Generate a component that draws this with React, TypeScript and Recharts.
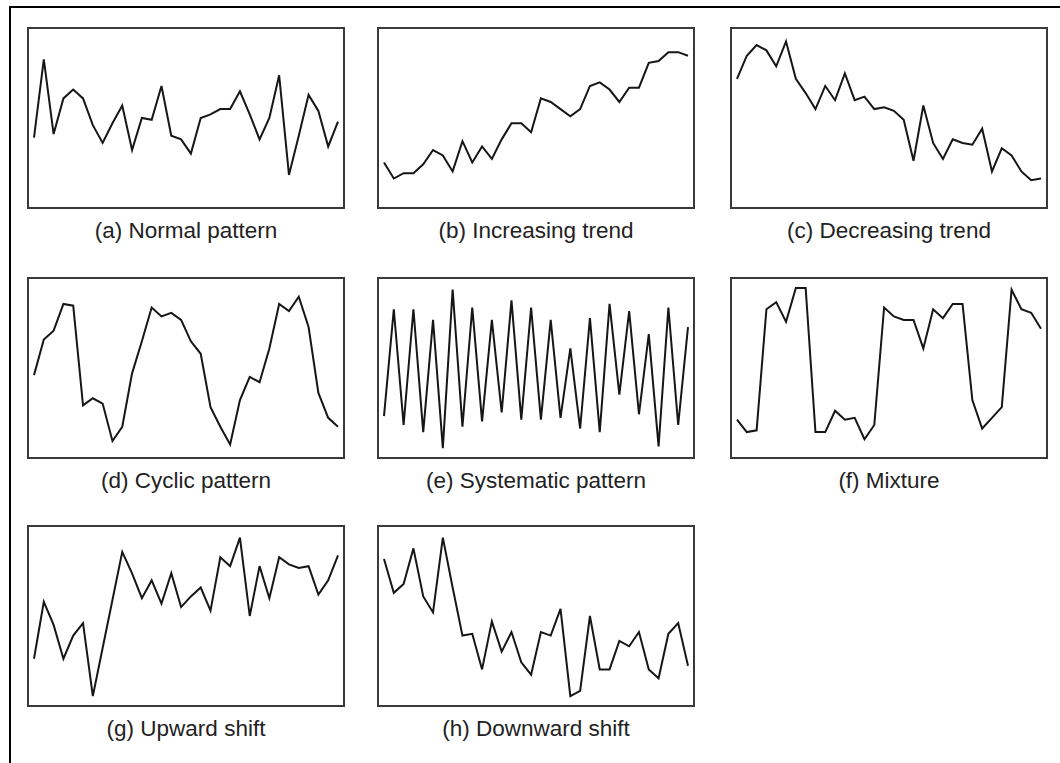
import { LineChart, Line, XAxis, YAxis } from "recharts";

// values, 0 = bottom of box, 100 = top of box
const normalPattern = [39, 83, 41, 61, 66, 61, 46, 36, 47, 57, 32, 50, 49, 68, 40, 38, 30, 50, 52, 55, 55, 65, 52, 38, 50, 74, 18, 40, 63, 54, 34, 48];
const increasingTrend = [25, 16, 19, 19, 24, 32, 29, 20, 37, 25, 34, 27, 38, 47, 47, 42, 61, 59, 55, 51, 55, 68, 70, 66, 59, 67, 67, 81, 82, 87, 87, 85];
const decreasingTrend = [72, 85, 91, 88, 79, 93, 72, 64, 55, 68, 60, 75, 60, 62, 55, 56, 54, 49, 26, 57, 36, 27, 38, 36, 35, 44, 20, 33, 29, 20, 15, 16];
const cyclicPattern = [46, 66, 71, 86, 85, 29, 33, 30, 9, 17, 47, 65, 84, 79, 81, 77, 65, 58, 28, 17, 7, 32, 45, 42, 61, 86, 82, 90, 73, 36, 22, 17];
const systematicPattern = [23, 83, 18, 83, 14, 77, 5, 94, 17, 84, 20, 77, 25, 88, 21, 84, 21, 77, 22, 61, 16, 78, 14, 86, 35, 82, 24, 69, 6, 84, 18, 73];
const mixturePattern = [21, 14, 15, 83, 87, 76, 95, 95, 14, 14, 26, 21, 22, 10, 18, 84, 79, 77, 77, 61, 83, 78, 86, 86, 32, 16, 22, 28, 94, 83, 81, 72];
const upwardShift = [26, 58, 45, 26, 39, 46, 5, 32, 59, 86, 74, 60, 70, 57, 74, 55, 61, 66, 53, 83, 78, 94, 50, 78, 60, 83, 79, 77, 78, 62, 70, 84];
const downwardShift = [82, 63, 68, 88, 61, 52, 94, 66, 39, 40, 20, 47, 30, 41, 24, 17, 41, 39, 54, 5, 8, 50, 20, 20, 36, 33, 41, 20, 15, 40, 46, 22];

const captions = [
  "(a) Normal pattern",
  "(b) Increasing trend",
  "(c) Decreasing trend",
  "(d) Cyclic pattern",
  "(e) Systematic pattern",
  "(f) Mixture",
  "(g) Upward shift",
  "(h) Downward shift",
];

const series = [normalPattern, increasingTrend, decreasingTrend, cyclicPattern, systematicPattern, mixturePattern, upwardShift, downwardShift];

const COLS = [27, 377, 730];
const ROWS = [27, 277, 525];
const BOX_W = 318;
const BOX_H = 182;

function Panel({ values, caption, left, top }: { values: number[]; caption: string; left: number; top: number }) {
  const data = values.map((v, i) => ({ i, v }));
  return (
    <>
      <div
        style={{
          position: "absolute",
          left,
          top,
          width: BOX_W,
          height: BOX_H,
          border: "2px solid #3a3a3a",
          boxSizing: "border-box",
          background: "#fff",
        }}
      >
        <LineChart width={BOX_W - 4} height={BOX_H - 4} data={data} margin={{ top: 0, right: 0, bottom: 0, left: 0 }}>
          <XAxis dataKey="i" type="number" domain={[0, values.length - 1]} hide padding={{ left: 5, right: 5 }} />
          <YAxis hide domain={[0, 100]} />
          <Line
            type="linear"
            dataKey="v"
            stroke="#161616"
            strokeWidth={2}
            dot={false}
            isAnimationActive={false}
          />
        </LineChart>
      </div>
      <div
        style={{
          position: "absolute",
          left,
          top: top + BOX_H + 9,
          width: BOX_W,
          height: 25,
          lineHeight: "25px",
          textAlign: "center",
          fontFamily: "'Liberation Sans', Arial, sans-serif",
          fontSize: 22.5,
          color: "#222",
        }}
      >
        {caption}
      </div>
    </>
  );
}

export default function App() {
  return (
    <div
      style={{
        position: "absolute",
        left: 0,
        top: 0,
        width: 1060,
        height: 763,
        overflow: "hidden",
        background: "#fff",
      }}
    >
      <div
        style={{
          position: "absolute",
          left: 9,
          top: 6,
          right: -4,
          bottom: -4,
          borderLeft: "2px solid #000",
          borderTop: "2px solid #000",
        }}
      />
      {series.map((values, k) => (
        <Panel
          key={captions[k]}
          values={values}
          caption={captions[k]}
          left={COLS[k % 3]}
          top={ROWS[Math.floor(k / 3)]}
        />
      ))}
    </div>
  );
}
